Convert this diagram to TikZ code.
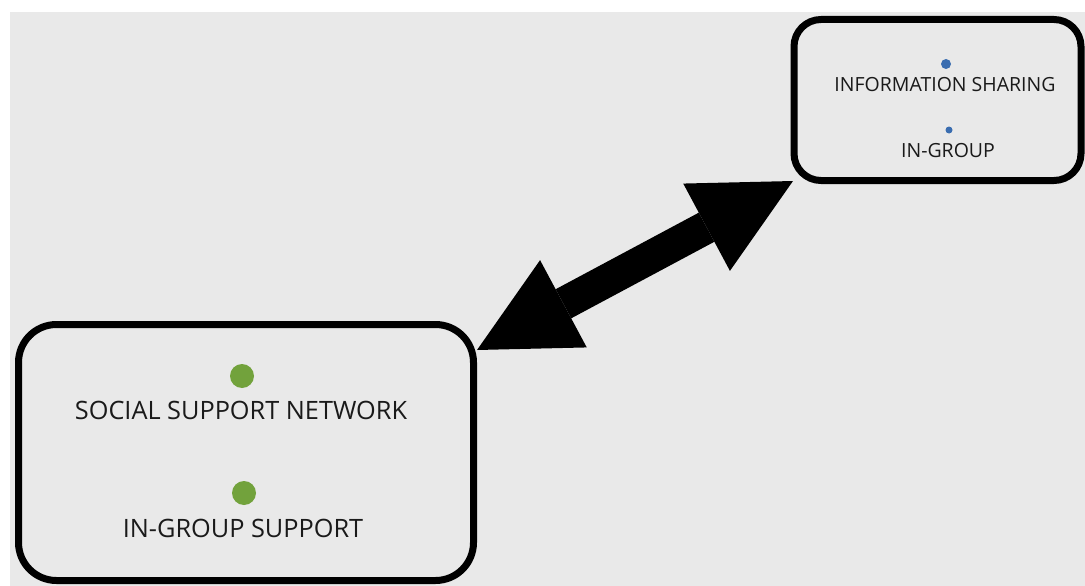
\documentclass[tikz,border=0pt]{standalone}
\usepackage{fontspec}
\setmainfont{Open Sans}
\usetikzlibrary{arrows.meta}
\definecolor{bggray}{HTML}{E9E9E9}
\definecolor{dotgreen}{HTML}{72A23C}
\definecolor{dotblue}{HTML}{3A6DB0}
\definecolor{txtgray}{HTML}{1A1A1A}
\tikzset{
  group/.style={draw=black, line width=7pt, rounded corners=#1, fill=bggray},
  label big/.style={anchor=base, text=txtgray, font=\fontsize{25.3}{27}\selectfont, inner sep=0pt},
  label small/.style={anchor=base, text=txtgray, font=\fontsize{19.5}{21}\selectfont, inner sep=0pt},
}
\begin{document}
\begin{tikzpicture}[x=1pt, y=-1pt]
			\useasboundingbox[fill=white] (0,0) rectangle (1085,586);
			\fill[bggray] (10,12) rectangle (1085,586);
			% the two groups
			\draw[group=38pt] (18.5,324.5) rectangle (473.5,580.5);
			\draw[group=27pt] (794,19.5) rectangle (1081,180.5);
			% lower group
			\node[dotgreen, fill=dotgreen, circle, inner sep=0pt, minimum size=24pt] (dotnet) at (242,376){};
			\node[label big] (net) at (241,419) {SOCIAL SUPPORT NETWORK};
			\node[dotgreen, fill=dotgreen, circle, inner sep=0pt, minimum size=24pt] (dotsup) at (244,493){};
			\node[label big] (sup) at (243,537) {IN-GROUP SUPPORT};
			% upper group
			\node[dotblue, fill=dotblue, circle, inner sep=0pt, minimum size=10pt] (dotinfo) at (946,64){};
			\node[label small] (info) at (945,92) {INFORMATION SHARING};
			\node[dotblue, fill=dotblue, circle, inner sep=0pt, minimum size=7pt] (dotin) at (949,130){};
			\node[label small] (ingroup) at (948,157) {IN-GROUP};
			% link between the groups
			\coordinate (lowtip) at (477,350);
			\coordinate (uptip) at (793,181);
			\draw[black, line width=33pt,
			  {Triangle[length=98pt, width=99pt, line width=0pt]}-{Triangle[length=98pt, width=99pt, line width=0pt]}]
			  (lowtip) -- (uptip);
		\end{tikzpicture}
\end{document}
